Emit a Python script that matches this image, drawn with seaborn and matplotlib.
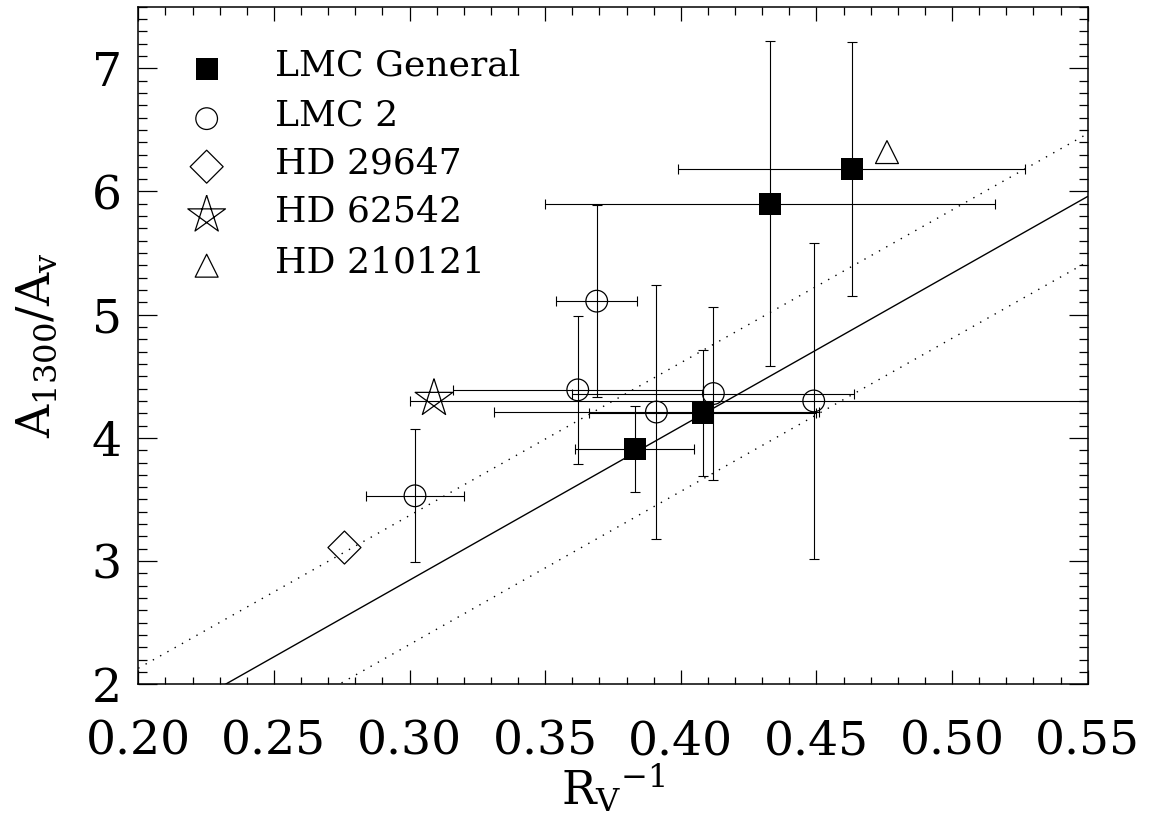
import numpy as np
import matplotlib
matplotlib.use("Agg")
import matplotlib.pyplot as plt
from matplotlib.path import Path
from matplotlib.ticker import MultipleLocator, FormatStrFormatter
import pandas as pd
import seaborn as sns

# ---------------- data ----------------
# LMC General (filled squares)
lmcg_x = [0.383, 0.408, 0.433, 0.463]
lmcg_y = [3.91, 4.20, 5.90, 6.18]
lmcg_xerr = [0.022, 0.042, 0.083, 0.064]
lmcg_yerr = [0.35, 0.51, 1.32, 1.03]

# LMC 2 (open circles)
lmc2_x = [0.302, 0.362, 0.369, 0.391, 0.412, 0.449]
lmc2_y = [3.53, 4.39, 5.11, 4.21, 4.36, 4.30]
lmc2_xerr = [0.018, 0.046, 0.015, 0.060, 0.052, 0.149]
lmc2_yerr = [0.54, 0.60, 0.78, 1.03, 0.70, 1.28]

# single Galactic sight lines (no error bars)
hd29647_x, hd29647_y = [0.276], [3.11]
hd62542_x, hd62542_y = [0.309], [4.32]
hd210121_x, hd210121_y = [0.476], [6.32]

# fitted relation and its spread
fit_x = [0.20, 0.55]
fit_y = [1.60, 5.96]
fit_hi = [2.13, 6.47]
fit_lo = [1.08, 5.43]

legend_labels = ["LMC General", "LMC 2", "HD 29647", "HD 62542", "HD 210121"]

x_ticks = [0.20, 0.25, 0.30, 0.35, 0.40, 0.45, 0.50, 0.55]
y_ticks = [2, 3, 4, 5, 6, 7]

# ---------------- style ----------------
sns.set_theme(style="ticks")
plt.rcParams["font.family"] = ["DejaVu Serif"]
plt.rcParams["mathtext.fontset"] = "dejavuserif"
plt.rcParams["axes.linewidth"] = 1.1
plt.rcParams["text.color"] = "black"
plt.rcParams["axes.labelcolor"] = "black"
plt.rcParams["xtick.labelcolor"] = "black"
plt.rcParams["ytick.labelcolor"] = "black"

ang = np.deg2rad(90 + 144 * np.arange(6))
star_path = Path(np.column_stack([np.cos(ang), np.sin(ang)]))

fig = plt.figure(figsize=(11.49, 8.27), dpi=100)
ax = fig.add_axes([138.3 / 1149, (827 - 684.3) / 827, 949.4 / 1149, 677.6 / 827])

# fit lines
sns.lineplot(x=fit_x, y=fit_y, ax=ax, color="black", lw=1.0, zorder=1)
sns.lineplot(x=fit_x, y=fit_hi, ax=ax, color="black", lw=1.0, linestyle=(0, (1, 5)), zorder=1)
sns.lineplot(x=fit_x, y=fit_lo, ax=ax, color="black", lw=1.0, linestyle=(0, (1, 5)), zorder=1)

# error bars
eb_kw = dict(fmt="none", ecolor="black", elinewidth=0.8, capsize=3.4, capthick=0.8, zorder=2)
ax.errorbar(lmcg_x, lmcg_y, xerr=lmcg_xerr, yerr=lmcg_yerr, **eb_kw)
ax.errorbar(lmc2_x, lmc2_y, xerr=lmc2_xerr, yerr=lmc2_yerr, **eb_kw)

# markers
sq_s, ci_s, di_s, st_s, tr_s = 16.3, 15.6, 16.8, 28.5, 16.5
sns.scatterplot(x=lmcg_x, y=lmcg_y, ax=ax, marker="s", s=sq_s ** 2,
                color="black", edgecolor="black", linewidth=0, zorder=3)
sns.scatterplot(x=lmc2_x, y=lmc2_y, ax=ax, marker="o", s=ci_s ** 2,
                facecolor="none", edgecolor="black", linewidth=0.9, zorder=3)
sns.scatterplot(x=hd29647_x, y=hd29647_y, ax=ax, marker="D", s=di_s ** 2,
                facecolor="none", edgecolor="black", linewidth=0.9, zorder=3)
sns.scatterplot(x=hd62542_x, y=hd62542_y, ax=ax, marker=star_path, s=st_s ** 2,
                facecolor="none", edgecolor="black", linewidth=0.9, zorder=3)
sns.scatterplot(x=hd210121_x, y=hd210121_y, ax=ax, marker="^", s=tr_s ** 2,
                facecolor="none", edgecolor="black", linewidth=0.9, zorder=3)

# axes
ax.set_xlim(0.20, 0.55)
ax.set_ylim(2.0, 7.5)
ax.set_xticks(x_ticks)
ax.set_yticks(y_ticks)
ax.xaxis.set_major_formatter(FormatStrFormatter("%.2f"))
ax.yaxis.set_major_formatter(FormatStrFormatter("%d"))
ax.xaxis.set_minor_locator(MultipleLocator(0.01))
ax.yaxis.set_minor_locator(MultipleLocator(0.1))
ax.tick_params(which="both", direction="in", top=True, right=True, color="black",
               labelcolor="black", width=0.9)
ax.tick_params(axis="x", which="major", length=10, pad=25, labelsize=34)
ax.tick_params(axis="x", which="minor", length=5.4)
ax.tick_params(axis="y", which="major", length=13.5, pad=12, labelsize=34)
ax.tick_params(axis="y", which="minor", length=6.5)
for sp in ax.spines.values():
    sp.set_color("black")
    sp.set_visible(True)

ax.set_xlabel(r"$\mathrm{R_V}^{-1}$", fontsize=33, color="black")
ax.set_ylabel(r"$\mathrm{A_{1300}/A_v}$", fontsize=33, color="black")
ax.xaxis.set_label_coords(0.5, -0.115)
ax.yaxis.set_label_coords(-0.083, 0.5)

# legend (drawn in axes coordinates)
leg_marker_x = 0.072
leg_text_x = 0.144
leg_rows_y = [0.9086, 0.8348, 0.7639, 0.6926, 0.6178]
leg_styles = [
    dict(marker="s", s=sq_s ** 2, facecolor="black", edgecolor="black", linewidth=0),
    dict(marker="o", s=ci_s ** 2, facecolor="none", edgecolor="black", linewidth=0.9),
    dict(marker="D", s=di_s ** 2, facecolor="none", edgecolor="black", linewidth=0.9),
    dict(marker=star_path, s=st_s ** 2, facecolor="none", edgecolor="black", linewidth=0.9),
    dict(marker="^", s=tr_s ** 2, facecolor="none", edgecolor="black", linewidth=0.9),
]
for lab, yy, sty in zip(legend_labels, leg_rows_y, leg_styles):
    ax.scatter([leg_marker_x], [yy], transform=ax.transAxes, clip_on=False, zorder=4, **sty)
    ax.text(leg_text_x, yy - 6.7 / 677.6, lab, transform=ax.transAxes,
            ha="left", va="baseline", fontsize=26, color="black")

fig.savefig("out.png", dpi=100)
